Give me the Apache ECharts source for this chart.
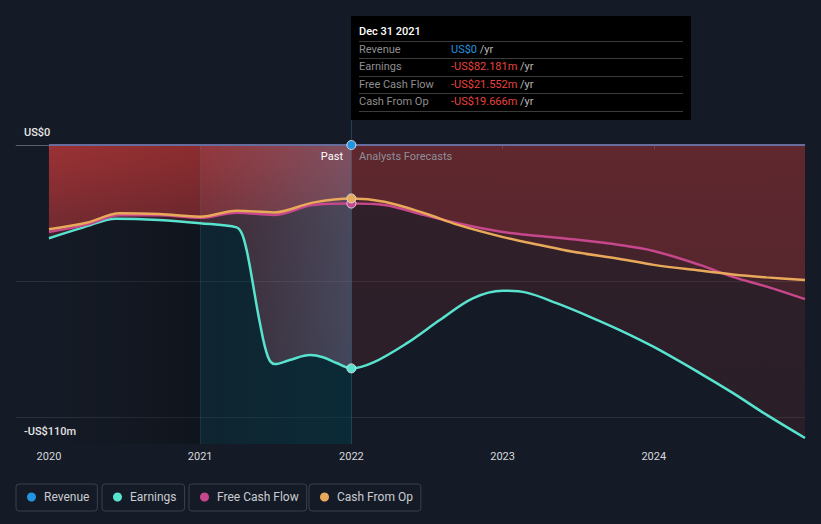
<!DOCTYPE html>
<html>
<head>
<meta charset="utf-8">
<script src="https://cdn.jsdelivr.net/npm/echarts@6/dist/echarts.min.js"></script>
<style>
html,body{margin:0;padding:0;background:#151b26;}
#chart{width:821px;height:524px;}
</style>
</head>
<body>
<div id="chart"></div>
<script>
// ---- data (values in US$ millions, x in decimal years) ----
const yearTicks = [2020, 2021, 2022, 2023, 2024];
const yLabelValues = [0, -110];

const revenueYears = [2020, 2022, 2025];
const revenueValues = [0, 0, 0];

const earningsPastYears = [2020.000, 2020.229, 2020.443, 2020.727, 2021.000, 2021.241, 2021.274, 2021.302, 2021.329, 2021.395, 2021.448, 2021.494, 2021.593, 2021.726, 2021.812, 2021.902, 2022.000];
const earningsPastValues = [-34.3, -30.3, -27.1, -27.6, -28.8, -30.3, -32.4, -37.4, -44.8, -65.5, -77.9, -80.6, -79.1, -77.3, -78.1, -80.2, -82.181];
const earningsFcYears = [2022.000, 2022.142, 2022.365, 2022.585, 2022.803, 2023.000, 2023.158, 2023.357, 2023.577, 2023.775, 2024.000, 2024.304, 2024.522, 2024.747, 2025.000];
const earningsFcValues = [-82.181, -80.1, -73.0, -64.4, -56.4, -53.6, -54.3, -58.2, -63.2, -68.1, -74.3, -83.9, -91.2, -99.3, -107.8];

const cashPastYears = [2020.000, 2020.249, 2020.469, 2020.729, 2021.000, 2021.241, 2021.488, 2021.745, 2022.000];
const cfoPastValues = [-31.0, -28.6, -25.1, -25.4, -26.4, -24.2, -24.8, -21.2, -19.666];
const fcfPastValues = [-32.0, -29.3, -25.8, -25.8, -26.8, -24.9, -25.75, -22.1, -21.552];
const cashFcYears = [2022.000, 2022.218, 2022.483, 2022.705, 2022.990, 2023.246, 2023.466, 2023.775, 2024.000, 2024.304, 2024.522, 2024.747, 2025.000];
const cfoFcValues = [-19.666, -20.9, -25.1, -29.4, -33.7, -36.8, -39.3, -41.9, -44.1, -46.2, -47.6, -48.7, -49.7];
const fcfFcValues = [-21.552, -22.1, -25.8, -28.8, -31.9, -33.5, -34.7, -36.8, -39.0, -44.1, -48.5, -52.1, -56.7];

const tooltipDate = 'Dec 31 2021';
const tooltipLabels = ['Revenue', 'Earnings', 'Free Cash Flow', 'Cash From Op'];
const tooltipValues = [0, -82.181, -21.552, -19.666];

// ---- helpers ----
const zip = (xs, ys) => xs.map((x, i) => [x, ys[i]]);
const between = (pts, a, b) => pts.filter(p => p[0] >= a && p[0] <= b);
const fmtMoney = v => v === 0 ? 'US$0' : (v < 0 ? '-' : '') + 'US$' + Math.abs(v).toFixed(3) + 'm';

const C = {rev: '#2394df', earn: '#58e3cf', fcf: '#c6478c', cfo: '#e9a95a'};
const SPLIT = 2022;

const earningsPast = zip(earningsPastYears, earningsPastValues);
const earningsFc = zip(earningsFcYears, earningsFcValues);
const cfoPast = zip(cashPastYears, cfoPastValues);
const cfoFc = zip(cashFcYears, cfoFcValues);
const fcfPast = zip(cashPastYears, fcfPastValues);
const fcfFc = zip(cashFcYears, fcfFcValues);

const SMOOTH = 0.35;
const red = a => 'rgba(220,60,60,' + a + ')';
const pastFill = {type: 'linear', global: true, x: 0, y: 145, x2: 0, y2: 444,
  colorStops: [{offset: 0, color: red(0.31)}, {offset: 0.25, color: red(0.2)}, {offset: 1, color: red(0.12)}]};
const fcFill = {type: 'linear', global: true, x: 0, y: 145, x2: 0, y2: 444,
  colorStops: [{offset: 0, color: red(0.145)}, {offset: 1, color: red(0.10)}]};
const hgrad = (c0, c1) => ({type: 'linear', x: 0, y: 0, x2: 1, y2: 0, colorStops: [{offset: 0, color: c0}, {offset: 1, color: c1}]});

function area(name, data, fill, z, origin) {
  return {name, type: 'line', data, smooth: SMOOTH, symbol: 'none', silent: true, z,
    lineStyle: {width: 0, opacity: 0}, areaStyle: {color: fill, origin: origin || 'auto', opacity: 1}};
}

function withDot(pts, color) {
  return pts.map(p => p[0] === SPLIT ? {value: p, symbol: 'circle', symbolSize: 9,
    itemStyle: {color: color, borderColor: '#d8dde3', borderWidth: 1}} : {value: p});
}
function lineSeries(name, pastPts, fcPts, color, z) {
  const pts = pastPts.concat(fcPts.slice(1));
  return {name, type: 'line', data: withDot(pts, color), smooth: SMOOTH,
    showSymbol: true, symbol: 'none', z: z, silent: true, color: color,
    itemStyle: {color: color}, lineStyle: {color: color, width: 2.5}};
}

const series = [
  // grid lines
  {name: 'grid', type: 'line', data: [], z: 1, silent: true,
    markLine: {silent: true, symbol: 'none', z: 1, label: {show: false},
      lineStyle: {color: 'rgba(255,255,255,0.09)', width: 1, type: 'solid'},
      data: [{yAxis: 0, lineStyle: {color: 'rgba(255,255,255,0.16)'}}, {yAxis: -50}, {yAxis: -100}]}},
  // red areas (past)
  area('ea_p', earningsPast, pastFill, 2),
  area('fa_p', fcfPast, pastFill, 2),
  area('ca_p', cfoPast, pastFill, 2),
  // red areas (forecast)
  area('ea_f', earningsFc, fcFill, 2),
  area('fa_f', fcfFc, fcFill, 2),
  area('ca_f', cfoFc, fcFill, 2),
  // past-period overlays
  area('ov1a', between(earningsPast, 2020, 2021), hgrad('rgba(0,0,0,0)', 'rgba(0,0,0,0.1)'), 3, 'auto'),
  area('ov1b', between(earningsPast, 2020, 2021), hgrad('rgba(0,0,0,0)', 'rgba(0,0,0,0.25)'), 3, 'start'),
  area('ov2a', between(earningsPast, 2021, 2022), hgrad('rgba(90,120,150,0.08)', 'rgba(90,125,160,0.42)'), 3, 'auto'),
  area('ov2b', between(earningsPast, 2021, 2022), hgrad('rgba(0,58,72,0.3)', 'rgba(0,58,72,0.5)'), 3, 'start'),
  // vertical guides
  {name: 'guides', type: 'line', data: [], z: 4, silent: true,
    markLine: {silent: true, symbol: 'none', z: 4, label: {show: false},
      data: [
        {xAxis: SPLIT, lineStyle: {color: 'rgba(50,110,140,0.45)', width: 1, type: 'solid'}},
        [{coord: [2021, 0], lineStyle: {color: 'rgba(50,110,140,0.25)', width: 1, type: 'solid'}}, {coord: [2021, -110]}]
      ]}},
  // lines
  lineSeries('Earnings', earningsPast, earningsFc, C.earn, 5),
  lineSeries('Free Cash Flow', fcfPast, fcfFc, C.fcf, 6),
  lineSeries('Cash From Op', cfoPast, cfoFc, C.cfo, 7),
  {name: 'Revenue', type: 'line', data: withDot(zip(revenueYears, revenueValues), C.rev), z: 8, silent: true,
    showSymbol: true, symbol: 'none', color: C.rev, itemStyle: {color: C.rev},
    lineStyle: {color: '#686c9c', width: 2}}
];

const legendNames = ['Revenue', 'Earnings', 'Free Cash Flow', 'Cash From Op'];
const legendLefts = [16, 102, 189, 309];
const legends = legendNames.map((n, i) => ({
  data: [n], left: legendLefts[i], top: 484, orient: 'horizontal', icon: 'circle',
  itemWidth: 9, itemHeight: 9, padding: [7, 8, 8, 11], borderColor: '#3a404b', borderWidth: 1, borderRadius: 3,
  selectedMode: false, textStyle: {color: '#c9ccd1', fontSize: 12, fontFamily: 'Roboto', padding: [0, 0, 0, 3]}
}));

// tooltip-like panel (graphic)
const rowY = [49.5, 66.5, 84, 101.5];
const sepY = [41.5, 58.5, 76.5, 93.5, 111.5];
const graphic = [
  {type: 'rect', shape: {x: 351, y: 16, width: 340, height: 104}, style: {fill: '#000000'}, z: 100},
  {type: 'text', x: 359, y: 31, z: 101, style: {text: tooltipDate, fill: '#ffffff', font: '500 11px Roboto', verticalAlign: 'middle'}}
].concat(sepY.map(y => ({type: 'line', z: 101, shape: {x1: 359, y1: y, x2: 683, y2: y}, style: {stroke: '#3b3b3b', lineWidth: 1}})))
 .concat(tooltipLabels.map((l, i) => ({type: 'text', x: 359, y: rowY[i], z: 101,
   style: {text: l, fill: '#8e8e8e', font: '11px Roboto', verticalAlign: 'middle'}})))
 .concat(tooltipValues.map((v, i) => ({type: 'text', x: 451, y: rowY[i], z: 101,
   style: {text: '{v|' + fmtMoney(v) + '} {u|/yr}', verticalAlign: 'middle', font: '11px Roboto',
     rich: {v: {fill: v === 0 ? C.rev : '#e8423f', font: '11px Roboto'}, u: {fill: '#b8b8b8', font: '11px Roboto'}}}})))
 .concat([
   {type: 'text', x: 343, y: 156, z: 50, style: {text: 'Past', fill: '#ffffff', font: '11px Roboto', align: 'right', verticalAlign: 'middle'}},
   {type: 'text', x: 359, y: 156, z: 50, style: {text: 'Analysts Forecasts', fill: '#8f8f99', font: '11px Roboto', verticalAlign: 'middle'}}
 ]);

const chart = echarts.init(document.getElementById('chart'), null, {renderer: 'svg'});
chart.setOption({
  backgroundColor: '#151b26',
  animation: false,
  textStyle: {fontFamily: 'Roboto'},
  grid: {left: 16, right: 16, top: 120, bottom: 80, containLabel: false},
  xAxis: {type: 'value', min: 2019.782, max: 2025,
    axisLine: {show: true, lineStyle: {color: '#3c424d', width: 1}},
    axisTick: {show: true, customValues: yearTicks, length: 4, lineStyle: {color: '#3c424d'}},
    axisLabel: {customValues: yearTicks, color: '#d5d8dc', fontSize: 11, margin: 7, formatter: v => String(Math.round(v))},
    splitLine: {show: false}},
  yAxis: {type: 'value', min: -110, max: 9.197,
    axisLine: {show: false}, axisTick: {show: false}, splitLine: {show: false},
    axisLabel: {customValues: yLabelValues, inside: true, margin: 8, verticalAlign: 'bottom', padding: [0, 0, 7, 0],
      color: '#e8e8e8', fontSize: 11, fontWeight: 500, formatter: v => fmtMoney(v).replace(/\.000m$/, 'm')}},
  legend: legends,
  graphic: graphic,
  series: series
});
</script>
</body>
</html>
